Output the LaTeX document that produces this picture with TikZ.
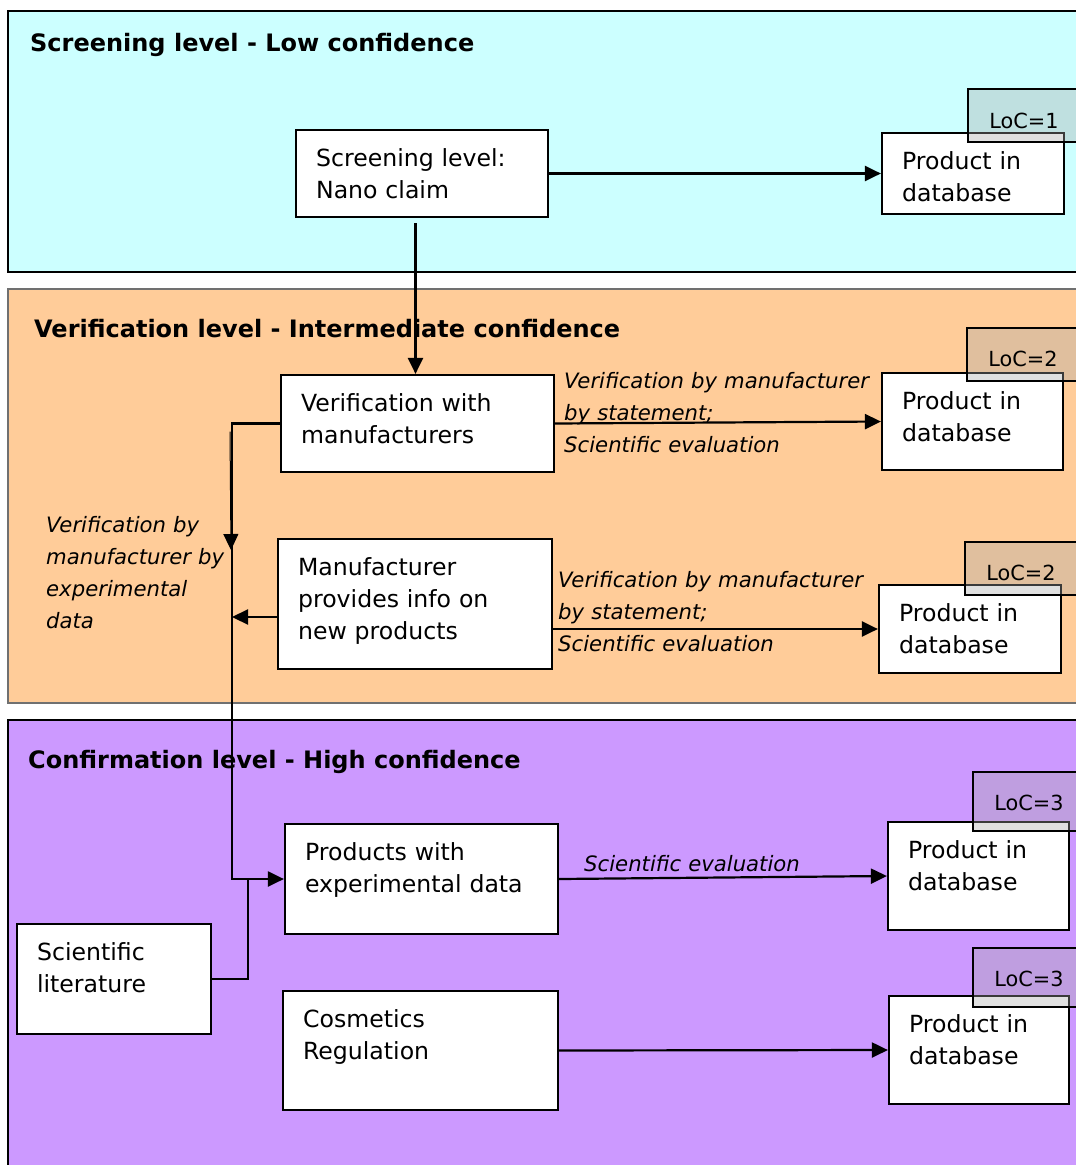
\documentclass[tikz,border=0pt]{standalone}
\usepackage{fontspec}
\setmainfont{DejaVu Sans}
\usetikzlibrary{arrows.meta,fit,calc}

\definecolor{screenbg}{HTML}{CCFFFF}
\definecolor{verifybg}{HTML}{FFCC99}
\definecolor{confirmbg}{HTML}{CC99FF}
\definecolor{panelgray}{HTML}{707070}
\definecolor{tagfill}{HTML}{A8A8A8}

\tikzset{
  panel/.style={line width=2pt},
  boxshape/.style={draw=black, fill=white, line width=2.2pt, inner sep=0pt, rectangle},
  boxtext/.style={font=\fontsize{23.6}{32}\selectfont, align=left, text width=300pt, inner sep=0pt},
  titletext/.style={font=\fontsize{24}{32}\selectfont\bfseries, inner sep=0pt},
  labeltext/.style={font=\fontsize{21.2}{32}\selectfont\itshape, align=left, text width=340pt, inner sep=0pt},
  tag/.style={draw=black, line width=1.6pt, fill=tagfill, fill opacity=0.35, draw opacity=1, inner sep=0pt, rectangle},
  tagtext/.style={font=\fontsize{20.8}{24}\selectfont, inner sep=0pt},
  conn/.style={line width=2.2pt},
  arr/.style={line width=2.2pt, -{Triangle[length=16pt,width=15pt]}},
}

% box: name, x1, y1, x2, y2, text
\newcommand\flowbox[6]{%
  \node[boxshape, fit={(#2,#3) (#4,#5)}] (#1) {};
  \node[boxtext, anchor=base west] (#1-t) at ([shift={(21,38)}]#1.north west) {#6};
}
% level tag: name, x1, y1, x2, y2, text, baseline offset
\newcommand\loctag[7]{%
  \node[tag, fit={(#2,#3) (#4,#5)}] (#1) {};
  \node[tagtext, anchor=base west] (#1-t) at ([shift={(22,#7)}]#1.north west) {#6};
}

\begin{document}
\begin{tikzpicture}[x=1pt,y=-1pt]
\useasboundingbox (0,0) rectangle (1076,1165);
\clip (0,0) rectangle (1076,1165);

% level panels
\node[panel, draw=black, fill=screenbg, inner sep=0pt, fit={(8,11) (1095,272)}] (p1) {};
\node[panel, draw=panelgray, fill=verifybg, inner sep=0pt, fit={(8,289) (1095,703)}] (p2) {};
\node[panel, draw=black, line width=2.6pt, fill=confirmbg, inner sep=0pt, fit={(8,720) (1095,1185)}] (p3) {};

\node[titletext, anchor=base west] (t1) at (30,51) {Screening level - Low confidence};
\node[titletext, anchor=base west] (t2) at (34,337) {Verification level - Intermediate confidence};
\node[titletext, anchor=base west] (t3) at (28,768) {Confirmation level - High confidence};

% boxes
\flowbox{scr}{296}{130}{548}{217}{Screening level:\\Nano claim}
\flowbox{pd1}{882}{133}{1064}{214}{Product in\\database}
\flowbox{ver}{281}{375}{554}{472}{Verification with\\manufacturers}
\flowbox{pd2}{882}{373}{1063}{470}{Product in\\database}
\flowbox{man}{278}{539}{552}{669}{Manufacturer\\provides info on\\new products}
\flowbox{pd3}{879}{585}{1061}{673}{Product in\\database}
\flowbox{pe}{285}{824}{558}{934}{Products with\\experimental data}
\flowbox{pd4}{888}{822}{1069}{930}{Product in\\database}
\flowbox{sl}{17}{924}{211}{1034}{Scientific\\literature}
\flowbox{cr}{283}{991}{558}{1110}{Cosmetics\\Regulation}
\flowbox{pd5}{889}{996}{1069}{1104}{Product in\\database}

% level-of-confidence tags
\loctag{loc1}{968}{89}{1095}{142}{LoC=1}{40}
\loctag{loc2}{967}{328}{1095}{381}{LoC=2}{39}
\loctag{loc3}{965}{542}{1095}{595}{LoC=2}{39}
\loctag{loc4}{973}{772}{1095}{831}{LoC=3}{39}
\loctag{loc5}{973}{948}{1095}{1007}{LoC=3}{39}

% edge labels
\node[labeltext, anchor=base west] (l1) at (564,388.5) {Verification by manufacturer\\by statement;\\Scientific evaluation};
\node[labeltext, anchor=base west] (l2) at (558,587.5) {Verification by manufacturer\\by statement;\\Scientific evaluation};
\node[labeltext, anchor=base west] (l3) at (584,871.5) {Scientific evaluation};
\node[labeltext, anchor=base west] (l4) at (46,532.5) {Verification by\\manufacturer by\\experimental\\data};

% routing points of the left-hand trunk
\coordinate (tk) at (232,0);
\coordinate (jn) at (248,0);

% connectors
\draw[arr] (scr.east) -- (pd1.west);
\draw[arr] (scr.south -| ver.north) ++(-2,5) coordinate (sdown) -- (sdown |- ver.north);
\draw[arr] (ver.east) -- (pd2.west);
\draw[arr] (man.east |- pd3.west) -- (pd3.west);
\draw[arr] (ver.west) -- (ver.west -| tk) -- (tk |- pe.west) -- (pe.west);
\draw[line width=1pt, -{Triangle[length=16pt,width=15pt]}] ($(ver.west -| tk)+(-2,8)$) -- ($(ver.west -| tk)+(-1,126.5)$);
\draw[arr] ($(man.west)+(0,13)$) -- ($(man.west -| tk)+(0,13)$);
\draw[conn] (sl.east) -- (sl.east -| jn) -- (jn |- pe.west);
\draw[arr] (pe.east) -- (pd4.west);
\draw[arr] (cr.east) -- (pd5.west);
\end{tikzpicture}
\end{document}
